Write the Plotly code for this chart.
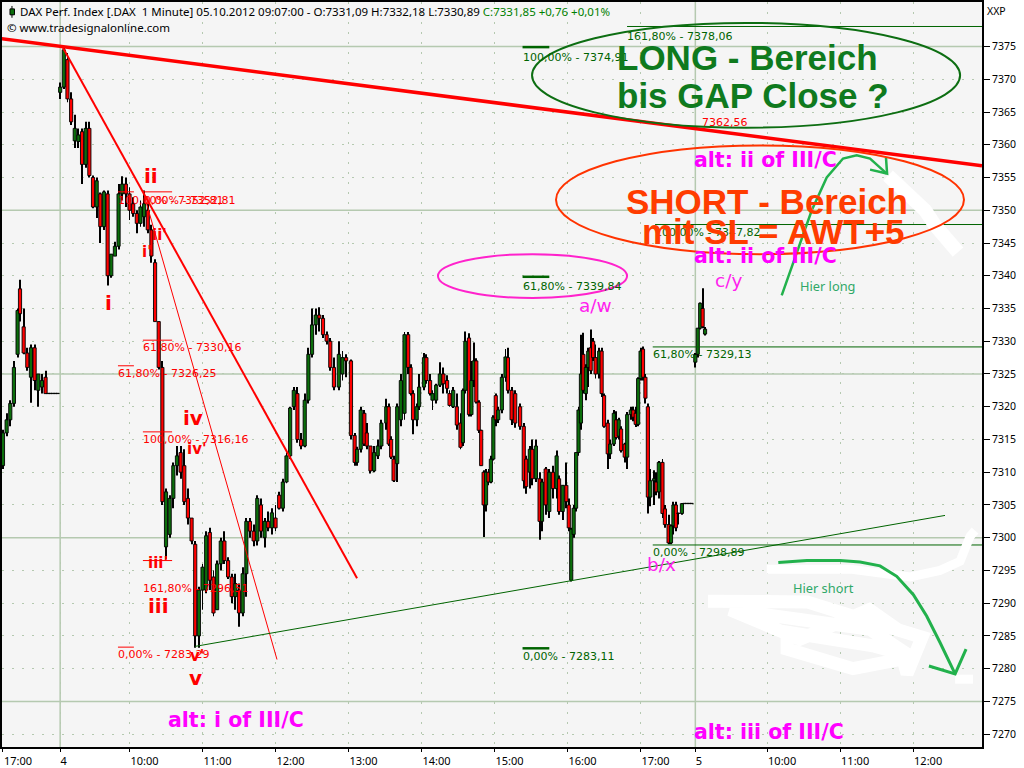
import plotly.graph_objects as go

# ---------- bars: minute position on the compressed intraday axis and O/H/L/C ----------
BAR_MINUTE = [
 0,3,6,9,12,14,17,20,23,26,29,32,35,37,39,41,43,45,
 47,50,53,56,59,62,65,68,71,74,77,80,83,86,89,92,95,98,101,104,107,110,113,116,119,122,125,128,
 131,134,137,140,143,146,149,152,155,158,161,164,167,170,173,176,179,182,185,188,191,194,197,200,
 203,206,209,212,215,218,221,224,227,230,233,236,239,242,245,248,251,254,257,260,263,266,269,272,
 276,279,282,286,289,291,294,297,299,302,305,308,311,315,317,319,321,324,327,330,333,335,337,340,
 342,346,348,351,353,356,359,362,365,367,370,373,376,378,380,383,385,387,389,391,393,395,397,399,
 401,403,405,407,410,413,415,418,421,425,428,430,433,435,438,441,443,446,449,452,455,457,460,463,
 465,467,469,471,473,475,477,479,481,483,485,487,490,492,494,497,499,502,504,506,508,511,513,516,
 518,520,522,524,526,528,530,532,535,537,539,542,544,547,549,551,553,555,558,560,562,564,566,
 569,571,573,575,577]

BAR_OPEN = [
 7311,7316,7318,7320.5,7328,7338,7332.2,7328.2,7324.5,7329,7322.5,7323,7324.5,7322,7322,7322,7322,7322,
 7368,7368.8,7373,7367,7360.6,7360.5,7362,7357,7362.5,7355,7350.5,7352.5,7347.5,7352.5,7340,7343,7344.5,7352.5,7354,7352.5,7351,7349.5,7348,7349,7350,7347,7342,7333,
 7326,7298.6,7300.5,7306,7311,7313,7311,7306,7303,7299,7285,7292,7292,7300.8,7294,7289,7296,7299.5,7296.5,7294,7291,7292,7288.5,7294.5,
 7302.5,7301,7299.5,7305,7300,7302.5,7301.5,7303,7306.5,7304.5,7308.5,7312.5,7320,7322,7315,7314,7321,7328,7332.5,7334,7333.5,7331,7330,7326,
 7323,7325,7327.5,7327,7315.6,7311.5,7313.5,7319,7316,7314,7310.2,7312.5,7314,7317.5,7320,7315,7312,7311.3,7318,7319,7331,7326,7322,7318,
 7320,7323,7327.5,7324,7321,7321,7323.3,7325,7324,7322,7320,7320,7317.5,7314.5,7322.5,7330.5,7318.8,7324,7327,7320.7,7316.4,7310,7305,7310,
 7308.5,7312,7321.7,7318,7319.5,7324.5,7327.5,7322.5,7322,7320,7317,7312,7310,7313.5,7309,7309,7302.5,7310.5,7304,7310,7307.5,7309,7304,7308,
 7305,7293.5,7300.5,7304.5,7313,7317.5,7328,7322,7326,7329,7330,7327.5,7325,7328.5,7321.7,7317.5,7312.8,7314.3,7318,7315.5,7316.6,7314.3,7312.3,7318.8,
 7319.5,7319,7317.3,7324.3,7328.8,7324.5,7320,7306.2,7308.7,7308.5,7307,7311.5,7304.4,7302,7299.2,7301.8,7305,7303.7,7303.7,7305.2,7305.2,7305.2,7305.2,
 7326.8,7328,7332,7335,7331.09]

BAR_HIGH = [
 7316.5,7319,7321,7327,7335,7339.4,7335,7329,7329.5,7329.5,7325,7325,7325.5,7322,7322,7322,7322,7322,
 7369.5,7375,7374,7368,7364.6,7362.5,7362.5,7363.5,7363.5,7355.3,7355,7352.7,7353,7353,7343.3,7345.2,7354,7355.2,7355,7353.5,7352,7350,7351.5,7353,7351,7347.8,7342.5,7333,
 7327,7307.5,7306.5,7311.5,7314,7314,7313.5,7307.5,7303,7299.5,7292.5,7296,7301,7301.5,7295,7296.5,7300,7301,7297,7294.5,7294.5,7293,7295.5,7303,
 7303,7302,7306.5,7306,7303,7304,7304.5,7305,7307,7309,7313,7320,7323,7323,7316,7322,7329,7335,7335,7335.2,7334,7331.5,7330.5,7327.5,
 7330,7328.5,7328,7327.2,7316,7313.9,7320,7319.5,7317.5,7314,7314,7315,7318,7321.2,7320.5,7315.5,7312.5,7320.5,7325,7331.4,7331.4,7326.5,7322.5,7320.5,
 7325,7328.2,7328,7325,7322.5,7323.5,7326.8,7326,7324.8,7322.5,7323,7322,7319,7322.8,7331.5,7331.2,7327,7329.8,7327.4,7321,7316.5,7310.3,7310.5,7310.5,
 7312.5,7318.7,7322,7320,7325,7328.8,7329,7323,7322.5,7320.5,7317.5,7312.5,7314,7315,7315,7310,7309,7310.8,7310.5,7311,7313.3,7309.5,7308,7311.5,
 7306,7301.5,7305,7313,7320,7331,7331.3,7326.5,7329,7331.8,7330.5,7329.5,7329,7329,7322,7318,7315,7319.5,7319.3,7318.3,7317,7314.5,7319.2,7320,
 7320,7320,7324.5,7329,7329.2,7325,7320.5,7310.5,7310.3,7310,7311.7,7312,7305,7303.5,7302,7305.5,7305.5,7303.8,7305.3,7305.2,7305.2,7305.2,7305.2,
 7328.2,7332,7335.9,7338.1,7332.18]

BAR_LOW = [
 7310.5,7315.5,7317,7320,7327.5,7333,7328,7325.5,7320.6,7322.5,7320,7322,7322,7322,7322,7322,7322,7322,
 7367,7368.5,7366.5,7363,7359.5,7359.5,7354,7356.5,7355,7350.3,7348.8,7345,7347,7338.5,7339.7,7343,7344,7351.5,7350.5,7348.5,7349,7346.5,7347.5,7347.5,7346.5,7342,7333,7325.7,
 7305,7296.7,7300,7304.5,7309.5,7309,7305,7302,7299,7283.2,7283.2,7289,7291.5,7292,7288,7289,7295,7296,7293.7,7290,7289,7286.4,7288,7291,
 7300,7298.7,7298.8,7300,7298.5,7301,7300.5,7301,7304.3,7304,7308.3,7312,7319.5,7314.5,7313.5,7313.8,7320.5,7327.5,7331,7331.5,7330.5,7329.5,7325.5,7322.5,
 7322.5,7324,7324.5,7315,7311,7311,7313,7314,7313.5,7309.8,7310,7312,7313.5,7316.5,7314,7312,7308.5,7308.5,7317,7318,7325,7321.7,7315.8,7317,
 7319.5,7322.5,7323.5,7321.7,7319.5,7320.5,7323,7322,7322,7320,7319.8,7316.5,7313.5,7314,7322,7318.5,7318.5,7323,7320.5,7316,7311,7300.1,7304,7308,
 7308.3,7311.8,7317,7317.5,7319,7323.8,7322,7317.2,7316.8,7316.5,7307.5,7306.7,7307.5,7308,7308.5,7299.7,7301,7303.5,7303,7306,7306,7303.5,7302.7,7304.5,
 7301,7293.3,7300,7304,7312.5,7316.5,7322,7321,7323,7325,7327,7324.3,7324.3,7321.5,7316.8,7310.5,7312,7314,7315,7315,7313,7311.5,7310.5,7318,
 7317.8,7316.9,7317,7324,7324,7320.5,7303.7,7304.8,7305,7306.5,7306,7303,7301.5,7299,7299,7300.5,7301,7302,7303.5,7305.2,7305.2,7305.2,7305.2,
 7326,7327.5,7331.8,7332,7330.89]

BAR_CLOSE = [
 7316,7318,7320.5,7326,7334.7,7334.2,7328.2,7326,7329,7324,7325,7324,7322,7322,7322,7322,7322,7322,
 7368.8,7374.5,7367,7363.5,7362.5,7361.5,7357,7362.5,7355.3,7350.5,7354.5,7347.5,7352.8,7340,7343.3,7344.5,7352.5,7354,7352.5,7350,7349.5,7348,7350.5,7351,7347,7343,7333,7326,
 7305.5,7307,7306,7311,7312.5,7310,7305.5,7303,7299.5,7285,7292,7295.5,7300.3,7293.5,7288.5,7296,7299.5,7296.5,7294,7291,7293,7288.5,7294.5,7302.5,
 7301,7299.5,7306,7301,7302.5,7301.5,7303.8,7301.5,7304.5,7308.5,7312.5,7319.8,7322.5,7315,7314,7321,7328,7332.5,7334,7333.5,7331,7330,7326,7323,
 7328,7327.5,7327,7315.6,7311.5,7313.5,7319.5,7314.3,7314,7310.2,7313,7314,7317.5,7320,7314.3,7312.3,7308.7,7320,7324,7331,7326,7322,7318,7320,
 7323,7327.5,7324,7322,7322,7323.3,7325,7323.5,7322.8,7320.2,7322.5,7317.2,7313.8,7322.5,7330,7318.8,7324,7327,7320.7,7316.4,7311,7305,7310,7308.5,
 7312,7318.4,7318,7319.5,7324.5,7327.6,7322.5,7318,7317.5,7317,7308.7,7307.8,7313.5,7309,7314,7302.5,7308.5,7305,7310,7307.5,7312.5,7304,7308,7305.5,
 7301.5,7301.3,7304.5,7313,7319.5,7325,7322.5,7326,7328.5,7325.5,7327.5,7325,7328.5,7322,7317,7312.8,7314.3,7319,7315.3,7318,7313.3,7312.3,7318.8,7319.5,
 7318.4,7317.3,7324.3,7328.5,7324.5,7321.3,7306.2,7308.7,7309,7307,7311.5,7303.7,7302,7299.2,7301.8,7305,7301.5,7303.7,7305.2,7305.2,7305.2,7305.2,7305.2,
 7328,7332,7335.8,7332.2,7331.85]

# ---------- axis ----------
X_TICK_MINUTES = [0,47,104,164,224,284,344,404,464,524,569,628,688,748]
X_TICK_LABELS = ["17:00","4","10:00","11:00","12:00","13:00","14:00","15:00","16:00","17:00","5","10:00","11:00","12:00"]
SESSION_STARTS = [47,569]
SOLID_PRICES = [7275,7300,7325,7350,7375]

# ---------- trend lines (minute, price) ----------
RESIST_T = [-2,804.6];  RESIST_P = [7376.2,7356.8]
DOWN_T = [49.3,291];    DOWN_P = [7374.8,7293.8]
DOWN2_T = [115,225.2];  DOWN2_P = [7353,7281.4]
UP_T = [157.8,774.2];   UP_P = [7283.4,7303.4]

# ---------- fibonacci levels ----------
RED_LEVELS = [(115,139,7352.81),(94.5,107.6,7352.81),(115,139,7330.16),(94.5,107.6,7326.25),(115,139,7316.16),(115,139,7296.51),(94.5,107.6,7283.29)]
GREEN_THIN = [(512.9,805,7378.06),(535.9,805,7347.82),(534,805,7329.13),(534,805,7298.89)]
GREEN_THICK = [(427,449,7374.91),(427,449,7339.84),(427,449,7283.11)]
RED_LABELS = [("100,00% - 7352,81",94.5,7351.5),("0,00% - 7352,81",115.9,7351.5),("61,80% - 7330,16",115,7329),
              ("61,80% - 7326,25",94.5,7325),("100,00% - 7316,16",115,7315),("161,80% - 7296,51",115,7292.3),
              ("0,00% - 7283,29",94.5,7282.1),("7362,56",574.5,7363.4)]
GREEN_LABELS = [("161,80% - 7378,06",512.9,7376.6),("100,00% - 7374,91",427.4,7373.4),("61,80% - 7339,84",427.4,7338.4),
                ("0,00% - 7283,11",427.4,7281.8),("100,00% - 7347,82",535.9,7346.6),("61,80% - 7329,13",534.2,7327.9),
                ("0,00% - 7298,89",534.2,7297.7)]
WAVE_BOLD = [("ii",121.6,7355.3),("i",87,7335.8),("iii",128.2,7289.5),("iv",156.2,7318.3),("v",158.6,7278.6)]
WAVE_THIN = [("ii'",129,7346.2),("i'",118.4,7343.7),("iii'",127.4,7296.1),("iv'",159.4,7313.6),("v'",159.4,7281.9)]
ALT_LABELS = [("alt: i of III/C",191.5,7272.2),("alt: iii of III/C",629.6,7270.4),("alt: ii of III/C",627,7357.6),("alt: ii of III/C",627,7343)]
WAVE_PINK = [("a/w",486.6,7335.4),("b/x",541.6,7295.9),("c/y",595.9,7339.2)]

# ---------- ovals (minute0, minute1, price0, price1) ----------
OVALS = [(434.8,786.6,7378.6,7362.6,"#0d6e12"),(454.5,789.8,7359.9,7343.3,"#ff3300"),(357.5,512.9,7343.3,7336.6,"#ff22cc")]

# ---------- hand-drawn strokes ----------
LONG_ARROW_T = [640,651,664.7,677,690.4,701.6,712.6,726.3]
LONG_ARROW_P = [7337,7342.9,7350,7355,7357.9,7358.4,7357.9,7355.6]
LONG_HEAD_T = [712.6,726.6,725.7]
LONG_HEAD_P = [7356.2,7355.6,7358]
SHORT_ARROW_T = [637.2,660.6,688,704.4,720.8,734.5,748.2,759.2,770.1,782.5]
SHORT_ARROW_P = [7296.2,7296.5,7296.5,7296.3,7295.7,7294.1,7291.3,7288,7284,7279.2]
SHORT_HEAD_T = [761,782.5,791.5]
SHORT_HEAD_P = [7280.4,7279.2,7283]
WHITE_A_T = [727.4,741.4,757.8,766,778.3,784.9]
WHITE_A_P = [7355.3,7353,7350,7347.7,7344.7,7343.6]
WHITE_B_T = [627.7,696.2,745.5,770.1,786.6,794.8,798.9]
WHITE_B_P = [7295.2,7295.2,7294,7295,7296.4,7300.2,7301.1]
WHITE_C_T = [579.4,660.8,698.6,755.3,743,739.7,698.6,644.4,644.4,715,745.5,712.6,655,597.5,655,712,735]
WHITE_C_P = [7290.3,7290.2,7288,7284.8,7279.2,7281.5,7280,7283,7285.6,7283.5,7281.9,7286,7287.5,7289,7284.5,7289,7286]
WHITE_D_T = [782.5,797.2]
WHITE_D_P = [7278.4,7278.4]

TITLE = ('DAX Perf. Index [.DAX  1 Minute] 05.10.2012 09:07:00 - O:7331,09 H:7332,18 L:7330,89 '
         '<span style="color:#008000">C:7331,85 +0,76 +0,01%</span>')
SOURCE = "© www.tradesignalonline.com"
UI_FONT = "Noto Sans"
GRID = "#b5c9b0"
DARK_GREEN = "#006400"
MAGENTA = "#ff00ff"
M_L, M_R, M_T, M_B = 0, 42, 0, 12

fig = go.Figure()

def line(xs, ys, color, width):
    fig.add_trace(go.Scatter(x=xs, y=ys, mode="lines", line=dict(color=color, width=width),
                             hoverinfo="skip", showlegend=False))

def levels(rows, color, width):
    xs, ys = [], []
    for a, b, p in rows:
        xs += [a, b, None]
        ys += [p, p, None]
    line(xs, ys, color, width)

# wicks, then bodies: plain bars give the wide overlapping candles of the original
fig.add_trace(go.Bar(x=BAR_MINUTE, base=BAR_LOW, y=[h - l for h, l in zip(BAR_HIGH, BAR_LOW)], width=0.75,
                     marker=dict(color="#000000", line=dict(width=0)), hoverinfo="skip", showlegend=False))
fig.add_trace(go.Bar(x=BAR_MINUTE, base=[min(o, c) for o, c in zip(BAR_OPEN, BAR_CLOSE)],
                     y=[max(abs(c - o), 0.05) for o, c in zip(BAR_OPEN, BAR_CLOSE)], width=2.6,
                     marker=dict(color=["#0b6e0b" if c >= o else "#ff0000" for o, c in zip(BAR_OPEN, BAR_CLOSE)],
                                 line=dict(color="#000000", width=0.9)),
                     hoverinfo="skip", showlegend=False))

line(RESIST_T, RESIST_P, "#ff0000", 3.5)
line(DOWN_T, DOWN_P, "#ff0000", 2)
line(DOWN2_T, DOWN2_P, "#ff0000", 1)
line(UP_T, UP_P, DARK_GREEN, 1)
levels(RED_LEVELS, "#ff0000", 1)
levels(GREEN_THIN, DARK_GREEN, 1)
levels(GREEN_THICK, DARK_GREEN, 2.5)

for xs, ys, w in [(WHITE_A_T, WHITE_A_P, 14), (WHITE_B_T, WHITE_B_P, 9), (WHITE_C_T, WHITE_C_P, 13), (WHITE_D_T, WHITE_D_P, 9)]:
    line(xs, ys, "#ffffff", w)
for xs, ys, w in [(LONG_ARROW_T, LONG_ARROW_P, 2.5), (LONG_HEAD_T, LONG_HEAD_P, 2.5), (SHORT_ARROW_T, SHORT_ARROW_P, 3), (SHORT_HEAD_T, SHORT_HEAD_P, 3)]:
    line(xs, ys, "#22b14c", w)

plot_w, plot_h = 1024 - M_L - M_R, 768 - M_T - M_B

shapes = []
for p in SOLID_PRICES:
    shapes.append(dict(type="line", xref="paper", yref="y", x0=0, x1=1, y0=p, y1=p, layer="below", line=dict(color=GRID, width=1.5)))
for t in SESSION_STARTS:
    shapes.append(dict(type="line", xref="x", yref="paper", x0=t, x1=t, y0=0, y1=1, layer="below", line=dict(color=GRID, width=1.5)))
for a, b, p0, p1, c in OVALS:
    shapes.append(dict(type="circle", xref="x", yref="y", x0=a, x1=b, y0=p0, y1=p1, line=dict(color=c, width=2)))
# small candle icon in front of the title
shapes.append(dict(type="line", xref="paper", yref="paper", x0=10/plot_w, x1=10/plot_w, y0=1-4/plot_h, y1=1-16/plot_h, line=dict(color="#000000", width=1)))
shapes.append(dict(type="rect", xref="paper", yref="paper", x0=8/plot_w, x1=12.5/plot_w, y0=1-7/plot_h, y1=1-13/plot_h,
                   fillcolor="#0b6e0b", line=dict(color="#000000", width=1)))

ann = []
def text(s, x, y, size, color, family=UI_FONT, anchor="center", bold=False, xshift=0):
    ann.append(dict(text=f"<b>{s}</b>" if bold else s, x=x, y=y, xref="x", yref="y", xanchor=anchor, yanchor="middle",
                    showarrow=False, xshift=xshift, font=dict(family=family, size=size, color=color)))

for s, x, y in RED_LABELS:
    text(s, x, y, 11, "#ff0000", "DejaVu Sans", anchor="left", xshift=-2)
for s, x, y in GREEN_LABELS:
    text(s, x, y, 11, DARK_GREEN, "DejaVu Sans", anchor="left", xshift=-2)
for s, x, y in WAVE_BOLD:
    text(s, x, y, 20, "#ff0000", "DejaVu Sans", bold=True)
for s, x, y in WAVE_THIN:
    text(s, x, y, 15, "#ff0000", "DejaVu Sans", bold=True)
for s, x, y in ALT_LABELS:
    text(s, x, y, 20.5, MAGENTA, "DejaVu Sans", bold=True)
for s, x, y in WAVE_PINK:
    text(s, x, y, 18.5, "#ff22ee", "DejaVu Sans")
text("LONG - Bereich", 611.9, 7373.4, 35, "#0f7a1e", "Liberation Sans", bold=True)
text("bis GAP Close ?", 616.4, 7367.5, 35, "#0f7a1e", "Liberation Sans", bold=True)
text("SHORT - Bereich", 628, 7351.3, 35, "#ff3c00", "Liberation Sans", bold=True)
text("mit SL = AWT+5", 633.3, 7346.8, 35, "#ff3c00", "Liberation Sans", bold=True)
text("Hier long", 678, 7338.4, 12.8, "#2fa868")
text("Hier short", 674, 7292.3, 12.8, "#2fa868")

for s, px, py, size in [(TITLE, 16, 10, 11.5), (SOURCE, 3, 26, 11.5), ("XXP", 985, 9, 10.5)]:
    ann.append(dict(text=s, x=(px - M_L)/plot_w, y=1-(py - M_T)/plot_h, xref="paper", yref="paper", xanchor="left", yanchor="middle",
                    showarrow=False, font=dict(family=UI_FONT, size=size, color="#000000")))

fig.update_layout(
    width=1024, height=768, autosize=False,
    margin=dict(l=M_L, r=M_R, t=M_T, b=M_B, pad=0),
    paper_bgcolor="#ffffff", plot_bgcolor="#f5f5f5",
    barmode="overlay", showlegend=False, shapes=shapes, annotations=ann,
    font=dict(family=UI_FONT, size=11, color="#000000"),
    xaxis=dict(range=[-0.8, 804.6], tickmode="array",
               tickvals=X_TICK_MINUTES, ticktext=[l.ljust(9 if len(l) == 1 else 5, "\u00a0") for l in X_TICK_LABELS],
               ticks="outside", ticklen=3, tickcolor="#000000", ticklabelshift=15,
               showgrid=True, gridcolor=GRID, griddash="2px,8px", gridwidth=1, zeroline=False,
               showline=True, linecolor="#000000", linewidth=2, mirror=True),
    yaxis=dict(range=[7268.04, 7381.8], side="right", tickmode="array", tickvals=list(range(7270, 7380, 5)),
               ticks="outside", ticklen=6, tickcolor="#000000", tickfont=dict(size=10.5),
               showgrid=True, gridcolor=GRID, griddash="2px,8px", gridwidth=1, zeroline=False,
               showline=True, linecolor="#000000", linewidth=2, mirror=True),
)

fig.write_html("out.html", config=dict(displayModeBar=False),
               post_script="document.body.style.margin='0';")
